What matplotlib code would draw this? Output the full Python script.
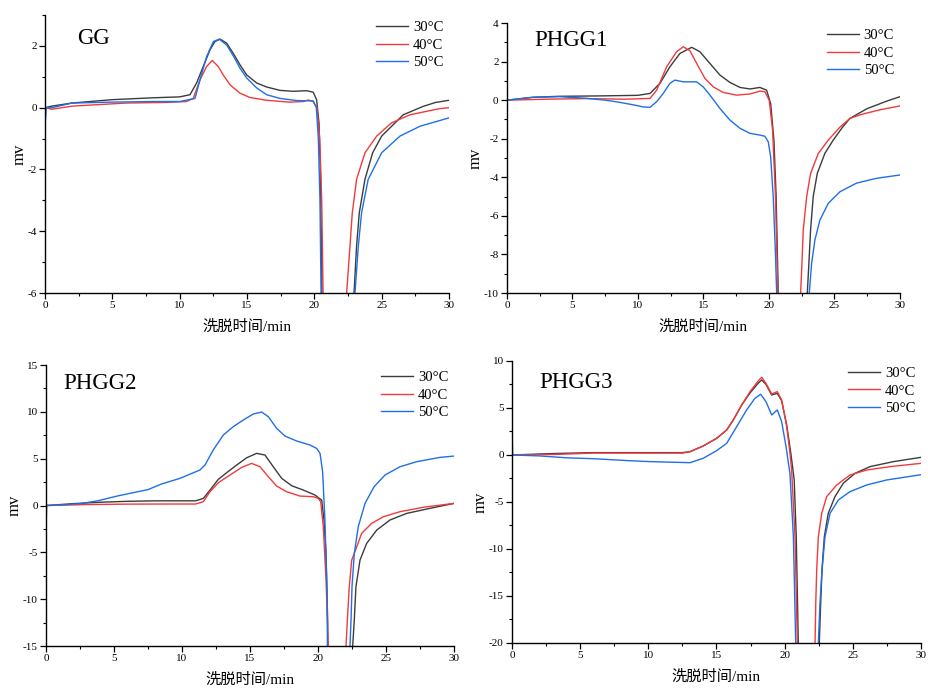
# GPC elution curves of GG / PHGG samples at three column temperatures

import matplotlib.pyplot as plt
from matplotlib.ticker import MultipleLocator

plt.rcParams['font.family'] = ['Liberation Serif', 'Noto Sans CJK SC']
plt.rcParams['axes.unicode_minus'] = False

temps = ['30°C', '40°C', '50°C']
colors = ['#3c3c3c', '#f23a3a', '#1f6fe6']
titles = ['GG', 'PHGG1', 'PHGG2', 'PHGG3']

# --- GG ---
gg_30_t = [0, 0.5, 2, 5, 8, 10, 10.77, 11.26, 11.75, 12.25, 12.62, 13.0, 13.49, 13.98, 14.48, 14.98, 15.72, 16.46, 17.45,
           18.44, 19.43, 19.92, 20.17, 20.35, 20.45, 20.55, 20.62, 20.7,
           22.9, 22.95, 23.14, 23.34, 23.76, 24.33, 25.0, 26.0, 26.6, 28.07, 29.0, 30]
gg_30_v = [0.0, 0.05, 0.15, 0.26, 0.32, 0.35, 0.42, 0.8, 1.33, 1.87, 2.14, 2.22, 2.09, 1.76, 1.39, 1.06, 0.8, 0.67, 0.56,
           0.53, 0.55, 0.5, 0.26, -0.5, -2, -5, -10, -50,
           -50, -6, -4.47, -3.4, -2.32, -1.46, -0.92, -0.49, -0.23, 0.04, 0.17, 0.24]
gg_40_t = [0, 0.5, 2, 4, 6, 9, 10.5, 11.01, 11.51, 12.0, 12.42, 12.87, 13.24, 13.74, 14.48, 15.22, 16.46, 18.19, 19.2,
           19.55, 19.9, 20.2, 20.4, 20.55, 20.65, 20.72,
           22.35, 22.4, 22.65, 22.82, 23.14, 23.76, 24.63, 25.74, 27.1, 29.3, 30]
gg_40_v = [0.0, -0.05, 0.05, 0.1, 0.15, 0.17, 0.2, 0.3, 0.9, 1.33, 1.53, 1.33, 1.06, 0.74, 0.47, 0.33, 0.24, 0.18, 0.2,
           0.25, 0.2, 0.0, -1, -3, -6, -50,
           -50, -6, -4.47, -3.4, -2.32, -1.46, -0.92, -0.49, -0.23, -0.03, 0.0]
gg_50_t = [0, 0.1, 0.5, 2, 5, 8, 10.02, 11.14, 11.51, 12.0, 12.5, 12.94, 13.49, 13.98, 14.48, 14.98, 15.72, 16.46, 17.45,
           18.7, 19.92, 20.15, 20.3, 20.42, 20.5, 20.55,
           22.95, 23.02, 23.27, 23.51, 24.0, 25.0, 26.36, 27.85, 30]
gg_50_v = [-0.6, 0.0, 0.0, 0.15, 0.18, 0.2, 0.2, 0.3, 0.9, 1.65, 2.14, 2.22, 2.03, 1.68, 1.28, 0.96, 0.64, 0.42, 0.3,
           0.23, 0.22, 0.0, -1, -3, -6, -50,
           -50, -6, -4.47, -3.4, -2.32, -1.46, -0.92, -0.6, -0.33]

# --- PHGG1 ---
p1_30_t = [0, 2, 4, 7, 10, 10.92, 11.68, 12.44, 13.2, 14.1, 14.73, 15.5, 16.26, 17.02, 17.79, 18.55, 19.31, 19.82,
           20.13, 20.38, 20.55, 20.71, 20.8,
           22.85, 22.93, 23.05, 23.18, 23.38, 23.69, 24.27, 24.91, 25.62, 26.18, 27.46, 28.99, 30]
p1_30_v = [0.0, 0.15, 0.2, 0.22, 0.25, 0.35, 0.87, 1.73, 2.42, 2.74, 2.51, 1.9, 1.3, 0.92, 0.66, 0.58, 0.66, 0.52,
           -0.17, -2.07, -5, -10, -50,
           -50, -10, -8.46, -6.73, -5.0, -3.8, -2.76, -2.07, -1.4, -0.95, -0.45, -0.05, 0.18]
p1_40_t = [0, 3, 6, 9, 10.92, 11.43, 12.19, 12.95, 13.46, 13.97, 14.48, 15.11, 15.75, 16.51, 17.53, 18.55, 19.31, 19.69,
           20.02, 20.28, 20.5, 20.68, 20.75,
           22.35, 22.42, 22.52, 22.62, 22.88, 23.18, 23.77, 24.53, 25.42, 26.18, 27.0, 28.47, 30]
p1_40_v = [0.0, 0.05, 0.08, 0.05, 0.09, 0.52, 1.73, 2.51, 2.77, 2.56, 1.91, 1.13, 0.69, 0.4, 0.26, 0.32, 0.47, 0.44,
           0.0, -1.55, -5, -10, -50,
           -50, -10, -8.46, -6.73, -5.0, -3.8, -2.76, -2.07, -1.4, -0.95, -0.75, -0.5, -0.3]
p1_50_t = [0, 2, 4, 6, 7.5, 8.5, 9.7, 10.4, 10.92, 11.43, 11.93, 12.44, 12.82, 13.46, 14.48, 14.98, 15.5, 16.26, 17.02,
           17.79, 18.55, 19.31, 19.69, 19.95, 20.13, 20.33, 20.5, 20.59, 20.65,
           23.0, 23.08, 23.26, 23.51, 23.89, 24.53, 25.42, 26.69, 28.22, 30]
p1_50_v = [0.0, 0.15, 0.18, 0.1, 0.0, -0.1, -0.25, -0.35, -0.37, -0.08, 0.35, 0.87, 1.04, 0.95, 0.95, 0.69, 0.26, -0.43, -1.03,
           -1.46, -1.72, -1.81, -1.87, -2.16, -2.93, -5, -8, -10, -50,
           -50, -10, -8.46, -7.25, -6.22, -5.35, -4.75, -4.3, -4.05, -3.88]

# --- PHGG2 ---
p2_30_t = [0, 0.05, 2, 4, 6, 8, 11, 11.57, 12.06, 12.67, 13.28, 14.02, 14.76, 15.49, 16.1, 16.71, 17.33, 18.07, 18.92,
           19.78, 20.1, 20.27, 20.44, 20.59, 20.71, 20.78,
           22.5, 22.55, 22.67, 22.79, 23.09, 23.58, 24.32, 25.29, 26.52, 28.24, 30]
p2_30_v = [-2.4, 0.0, 0.2, 0.35, 0.45, 0.5, 0.5, 0.76, 1.65, 2.8, 3.5, 4.32, 5.1, 5.57, 5.39, 4.14, 2.9, 2.11, 1.65,
           1.12, 0.76, 0.59, -1.55, -5.1, -12.2, -50,
           -50, -15, -12.2, -8.67, -5.82, -4.04, -2.62, -1.55, -0.84, -0.3, 0.23]
p2_40_t = [0, 3, 6, 9, 11, 11.57, 12.06, 12.67, 13.53, 14.39, 15.12, 15.74, 16.35, 16.96, 17.7, 18.68, 19.66, 20.02,
           20.2, 20.39, 20.59, 20.76, 20.8,
           22.0, 22.06, 22.16, 22.3, 22.48, 22.85, 23.21, 23.95, 24.8, 26.03, 27.74, 30]
p2_40_v = [0.0, 0.1, 0.15, 0.16, 0.16, 0.41, 1.47, 2.43, 3.26, 4.07, 4.5, 4.14, 3.07, 2.08, 1.47, 1.01, 0.94, 0.76,
           0.4, -2.26, -7.95, -15, -50,
           -50, -15, -12.2, -8.67, -5.82, -4.4, -2.97, -1.9, -1.2, -0.66, -0.19, 0.23]
p2_50_t = [0, 1, 2.5, 3.8, 5.2, 6.5, 7.5, 8.5, 9.85, 11.32, 11.69, 12.3, 13.04, 13.77, 14.51, 15.24, 15.86, 16.35, 16.96,
           17.57, 18.43, 19.41, 19.9, 20.15, 20.34, 20.51, 20.68, 20.76,
           22.3, 22.35, 22.43, 22.5, 22.67, 22.96, 23.46, 24.12, 24.93, 26.03, 27.26, 28.97, 30]
p2_50_v = [0.0, 0.05, 0.2, 0.5, 1.0, 1.4, 1.7, 2.3, 2.9, 3.79, 4.32, 5.93, 7.53, 8.42, 9.13, 9.77, 9.98, 9.48, 8.24,
           7.42, 6.89, 6.46, 6.1, 5.57, 3.6, -1.55, -10, -50,
           -50, -15, -12.2, -8.67, -5.1, -2.26, 0.23, 2.0, 3.26, 4.14, 4.68, 5.14, 5.28]

# --- PHGG3 ---
p3_30_t = [0, 3, 6, 10, 12.5, 13.06, 14.03, 15.01, 15.75, 16.23, 16.85, 17.46, 18.07, 18.32, 18.63, 19.05, 19.46, 19.78,
           20.15, 20.45, 20.7, 20.85, 21.0, 21.05,
           22.5, 22.54, 22.64, 22.74, 22.91, 23.2, 23.69, 24.3, 25.16, 26.26, 27.97, 30]
p3_30_v = [0.0, 0.15, 0.25, 0.25, 0.25, 0.35, 0.96, 1.77, 2.66, 3.72, 5.32, 6.6, 7.65, 7.98, 7.5, 6.38, 6.56, 5.75,
           3.2, 0.2, -2.66, -8.7, -20, -50,
           -50, -20, -15.8, -12.2, -8.69, -6.2, -4.43, -3.01, -1.95, -1.24, -0.71, -0.25]
p3_40_t = [0, 3, 6, 12.5, 13.06, 14.03, 15.01, 15.75, 16.23, 16.85, 17.46, 18.07, 18.32, 18.63, 19.05, 19.46, 19.78,
           20.15, 20.39, 20.51, 20.76, 20.93, 21.0,
           22.2, 22.23, 22.28, 22.35, 22.47, 22.72, 23.08, 23.82, 24.79, 26.02, 27.73, 30]
p3_40_v = [0.0, 0.05, 0.2, 0.2, 0.35, 0.96, 1.77, 2.66, 3.72, 5.32, 6.74, 7.9, 8.26, 7.62, 6.49, 6.74, 5.85,
           3.01, 0.18, -1.6, -8.7, -20, -50,
           -50, -20, -15.8, -12.2, -8.69, -6.2, -4.43, -3.19, -2.13, -1.6, -1.24, -0.89]
p3_50_t = [0, 0.05, 2, 4, 6, 8.5, 10, 12, 13.06, 14.03, 15.01, 15.75, 16.48, 17.21, 17.82, 18.24, 18.63, 19.05, 19.46,
           19.78, 20.1, 20.39, 20.64, 20.81, 20.85,
           22.42, 22.47, 22.59, 22.74, 22.96, 23.33, 23.94, 24.79, 26.02, 27.48, 30]
p3_50_v = [3.2, 0.0, -0.1, -0.3, -0.4, -0.6, -0.7, -0.78, -0.82, -0.35, 0.46, 1.24, 3.01, 4.79, 6.03, 6.46, 5.67, 4.26, 4.79,
           3.54, 0.88, -2.0, -8.7, -20, -50,
           -50, -20, -15.8, -12.2, -8.69, -6.2, -4.79, -3.9, -3.19, -2.66, -2.1]

panels = [
    [(gg_30_t, gg_30_v), (gg_40_t, gg_40_v), (gg_50_t, gg_50_v)],
    [(p1_30_t, p1_30_v), (p1_40_t, p1_40_v), (p1_50_t, p1_50_v)],
    [(p2_30_t, p2_30_v), (p2_40_t, p2_40_v), (p2_50_t, p2_50_v)],
    [(p3_30_t, p3_30_v), (p3_40_t, p3_40_v), (p3_50_t, p3_50_v)],
]
ylims = [(-6, 3), (-10, 4), (-15, 15), (-20, 10)]
ysteps = [2, 2, 5, 5]

# axes boxes in figure fractions: left, bottom, width, height
boxes = [
    [0.0484, 0.5747, 0.4349, 0.4035],
    [0.5457, 0.5747, 0.4230, 0.3919],
    [0.0495, 0.0624, 0.4392, 0.4078],
    [0.5511, 0.0668, 0.4403, 0.4093],
]
title_pos = [(0.08, 0.915), (0.07, 0.935), (0.042, 0.935), (0.068, 0.922)]

fig = plt.figure(figsize=(9.29, 6.89), dpi=100)

for i in range(4):
    ax = fig.add_axes(boxes[i])
    for (t, v), c, lab in zip(panels[i], colors, temps):
        ax.plot(t, v, color=c, lw=1.0, label=lab)
    ax.set_xlim(0, 30)
    ax.set_ylim(*ylims[i])
    ax.xaxis.set_major_locator(MultipleLocator(5))
    ax.xaxis.set_minor_locator(MultipleLocator(2.5))
    ax.yaxis.set_major_locator(MultipleLocator(ysteps[i]))
    ax.yaxis.set_minor_locator(MultipleLocator(ysteps[i] / 2))
    for s in ['top', 'right']:
        ax.spines[s].set_visible(False)
    for s in ['left', 'bottom']:
        ax.spines[s].set_linewidth(1.0)
    ax.tick_params(which='major', direction='out', length=4, width=0.9, labelsize=8, pad=2)
    ax.tick_params(which='minor', direction='out', length=2.5, width=0.8)
    ax.set_xlabel('洗脱时间/min', fontsize=11, labelpad=7)
    ax.set_ylabel('mv', fontsize=12, labelpad=0)
    ax.text(title_pos[i][0], title_pos[i][1], titles[i], transform=ax.transAxes,
            fontsize=16.5, ha='left', va='center')
    ax.legend(loc='upper right', bbox_to_anchor=(1.0, 1.0), frameon=False, fontsize=10.5,
              handlelength=2.2, handletextpad=0.3, labelspacing=0.3, borderaxespad=0.0)

plt.savefig('out.png', dpi=100)
